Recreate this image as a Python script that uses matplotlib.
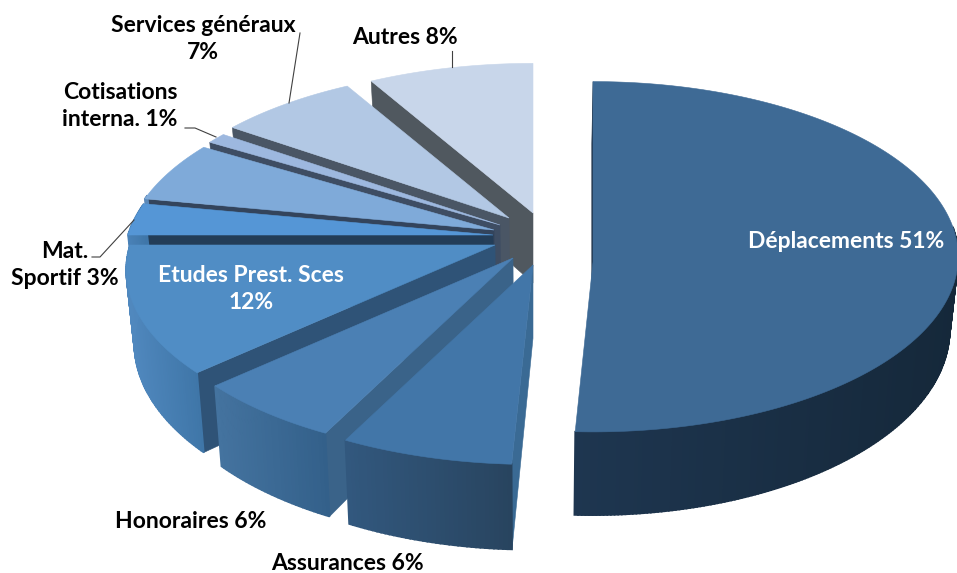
import numpy as np
import matplotlib
matplotlib.use("Agg")
import matplotlib.pyplot as plt
from matplotlib.colors import to_rgb
from matplotlib.patches import Polygon

labels = ["Déplacements 51%", "Assurances 6%", "Honoraires 6%", "Etudes Prest. Sces\n12%",
          "Mat.\nSportif 3%", "", "Cotisations\ninterna. 1%", "Services généraux\n7%", "Autres 8%"]
values = [50.8, 6.6, 5.8, 11.8, 3, 5.7, 1, 7, 8.3]

top_colors = ["#3E6A95", "#4276A8", "#4B80B4", "#508DC5", "#5596D6", "#7FAAD9", "#9DB8DF", "#B2C8E4", "#C8D6EA"]
cut_colors = ["#1D3147", "#3A6A94", "#3A6389", "#2F5377", "#233D58", "#33445C", "#3E4D63", "#4A5665", "#50585F"]
wall_left = ["#1E3650", "#32587E", "#44739F", "#5088BE", "#4A82B8", "#5A88B8", "#6E8FB8", "#7E98BC", "#8CA3C2"]
wall_right = ["#15283A", "#28445F", "#33608A", "#3F76A8", "#3F76A8", "#4F7CAA", "#5F82AC", "#6E8CB0", "#7C96B6"]

# slice tip offsets from the pie centre, px (the explode of each slice)
cx, cy = 533, 245
tip_dx = [60, 0, -20, -38, -40, -39, -33, -24, 0]
tip_dy = [17, 20, 13, 0, -10, -15, -20, -27, -32]
# perspective per slice, the big one sits nearly flat
persp = [-0.03, 1 / 7, 1 / 7, 1 / 7, 1 / 7, 1 / 7, 1 / 7, 1 / 7, 1 / 7]
squash = [175, 171, 171, 171, 171, 171, 171, 171, 171]
draw_order = [0, 8, 7, 6, 5, 4, 3, 2, 1]

a = 365
depth = 72
shrink = 0.98


def project(tx, ty, ang, k, b):
    X = np.sin(ang)
    Y = -np.cos(ang)
    s = 1 / (1 - k * Y)
    return tx + a * X * s, ty + b * Y * s


def drop(x, y):
    # same point on the lower face of the slice
    return cx + (x - cx) * shrink, y + depth * (1 + (y - cy) / 171 / 7)


def area(p):
    p = np.array(p)
    return 0.5 * np.sum(p[:, 0] * np.roll(p[:, 1], -1) - np.roll(p[:, 0], -1) * p[:, 1])


fig = plt.figure(figsize=(9.57, 5.73), dpi=100)
ax = fig.add_axes([0, 0, 1, 1])
ax.set_xlim(0, 957)
ax.set_ylim(573, 0)
ax.axis("off")

fr = np.cumsum([0] + values) / sum(values) * 2 * np.pi

for z, i in enumerate(draw_order):
    tx, ty = cx + tip_dx[i], cy + tip_dy[i]
    th = np.linspace(fr[i], fr[i + 1], max(int(values[i] * 6), 12))
    xs, ys = project(tx, ty, th, persp[i], squash[i])
    tip = (tx, ty)
    bt = drop(*tip)
    # cut faces
    for e, sign in (((xs[0], ys[0]), 1), ((xs[-1], ys[-1]), -1)):
        q = [tip, e, drop(*e), bt]
        if area(q) * sign < 0:
            ax.add_patch(Polygon(q, closed=True, fc=cut_colors[i], ec=cut_colors[i], lw=0.4, zorder=z))
    # outer wall, shaded strip by strip
    c0 = np.array(to_rgb(wall_left[i]))
    c1 = np.array(to_rgb(wall_right[i]))
    xr = xs.max() - xs.min()
    for j in range(len(th) - 1):
        if np.cos(th[j]) < 0.2:
            q = [(xs[j], ys[j]), (xs[j + 1], ys[j + 1]), drop(xs[j + 1], ys[j + 1]), drop(xs[j], ys[j])]
            c = c0 + (c1 - c0) * (0.5 * (xs[j] + xs[j + 1]) - xs.min()) / max(xr, 1)
            ax.add_patch(Polygon(q, closed=True, fc=c, ec=c, lw=1.2, zorder=z + 0.2))
    ax.add_patch(Polygon([tip] + list(zip(xs, ys)), closed=True, fc=top_colors[i], ec=top_colors[i], lw=0.4,
                         zorder=z + 0.5))

# leader lines
for lx, ly in [([300, 289], [33, 103]), ([452, 452], [51, 67]), ([185, 195, 216], [128, 128, 137]),
               ([92, 100, 134], [257, 257, 220])]:
    ax.plot(lx, ly, color="#404040", lw=0.8, zorder=20)

font = dict(family=["Lato", "DejaVu Sans"], fontweight="bold", fontsize=16.5, ha="center", va="center",
            linespacing=1.36, zorder=30)
label_pos = [(846, 241), (347, 563), (191, 521), (251, 289), (65, 265), None, (120, 106), (203, 39), (405, 37)]
label_col = ["white", "black", "black", "white", "black", None, "black", "black", "black"]
for t, p, c in zip(labels, label_pos, label_col):
    if t:
        ax.text(p[0], p[1], t, color=c, **font)

fig.savefig("out.png", dpi=100)
